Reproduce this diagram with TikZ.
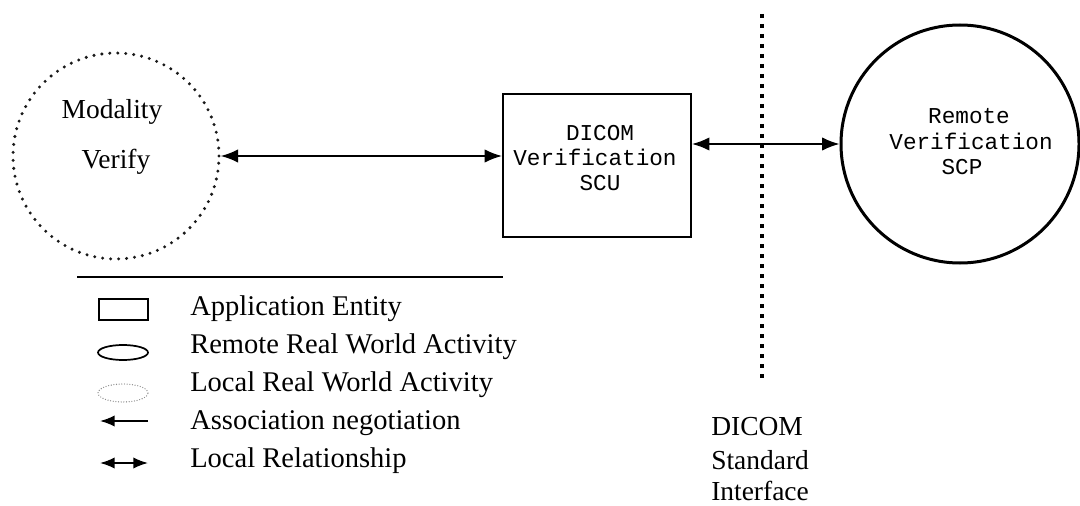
\documentclass[tikz,border=0pt]{standalone}
\usepackage{fontspec}
\setmainfont{Liberation Serif}
\setmonofont{Liberation Mono}
\usetikzlibrary{arrows.meta,shapes.geometric}
\tikzset{
  entity/.style={draw, line width=1.5pt, minimum width=141pt, minimum height=107.25pt, inner sep=0pt},
  remoteact/.style={draw, circle, line width=2.25pt, minimum size=178.5pt, inner sep=0pt},
  localact/.style={draw=black!90, circle, line width=2.5pt, line cap=round, dash pattern=on 0pt off 6pt, minimum size=154.5pt, inner sep=0pt},
  rel/.style={line width=1.3pt, {Latex[length=13pt,width=10pt]}-{Latex[length=13pt,width=10pt]}},
  legrel/.style={line width=1.3pt, {Latex[length=11pt,width=8.5pt]}-{Latex[length=11pt,width=8.5pt]}},
  legassoc/.style={line width=1.3pt, -{Latex[length=11pt,width=8.5pt]}},
  iface/.style={line width=3pt, dash pattern=on 3pt off 4.5pt},
  serif/.style={font=\fontsize{20.6}{24}\selectfont, inner sep=0pt},
  legtext/.style={font=\fontsize{21.4}{24}\selectfont, inner sep=0pt, anchor=base west},
  mono/.style={font=\ttfamily\fontsize{17}{20}\selectfont, inner sep=0pt},
}

\begin{document}
\begin{tikzpicture}[x=0.75pt, y=-0.75pt]
			%%%%% START %%%%%
			\useasboundingbox (0,0) rectangle (1080,506);
			
			% local activity
			\node[localact] (modality) at (116,156) {};
			\node[serif, anchor=base] (modname) at (112,118) {Modality};
			\node[serif, anchor=base] (modverify) at (116,168) {Verify};
			
			% application entity
			\node[entity] (scu) at (597,165.5) {};
			\node[mono, anchor=base] (scudicom) at (600,141) {DICOM};
			\node[mono, anchor=base] (scuverif) at (595,166) {Verification};
			\node[mono, anchor=base] (scuname) at (600,190) {SCU};
			
			% remote activity
			\node[remoteact] (scp) at (960,144) {};
			\node[mono, anchor=base] (scpremote) at (969,124) {Remote};
			\node[mono, anchor=base] (scpverif) at (971,150) {Verification};
			\node[mono, anchor=base] (scpname) at (962,175) {SCP};
			
			\draw[rel] (modality.east) -- (modality.east -| scu.west);
			\draw[rel] (scu.east |- scp.west) -- (scp.west);
			
			% standard interface
			\coordinate (ifacetop) at (762,14);
			\coordinate (ifacebot) at (762,380);
			\draw[iface] (ifacetop) -- (ifacebot);
			\node[serif, anchor=base west] (ifdicom) at (711,435) {DICOM};
			\node[serif, anchor=base west] (ifstandard) at (711,469) {Standard};
			\node[serif, anchor=base west] (ifname) at (711,500) {Interface};
			
			% legend
			\coordinate (sepleft) at (77,277);
			\coordinate (sepright) at (503,277);
			\draw[line width=1.5pt] (sepleft) -- (sepright);
			
			\node[draw, line width=1.3pt, minimum width=36.75pt, minimum height=15.75pt, inner sep=0pt] (aeicon) at (123.5,309.5) {};
			\node[draw, ellipse, line width=1.3pt, minimum width=37.5pt, minimum height=11.25pt, inner sep=0pt] (remoteicon) at (123,352.5) {};
			\node[draw=black!45, ellipse, line width=1pt, line cap=round, dash pattern=on 0pt off 2pt, minimum width=37.5pt, minimum height=13.5pt, inner sep=0pt] (localicon) at (123,393) {};
			\coordinate (assocend) at (148,421);
			\coordinate (assoctip) at (100,421);
			\draw[legassoc] (assocend) -- (assoctip);
			\coordinate (relleft) at (100,463);
			\coordinate (relright) at (148,463);
			\draw[legrel] (relleft) -- (relright);
			
			\node[legtext] (aetext) at (190,315) {Application Entity};
			\node[legtext] (remotetext) at (190,353) {Remote Real World Activity};
			\node[legtext] (localtext) at (190,391) {Local Real World Activity};
			\node[legtext] (assoctext) at (190,429) {Association negotiation};
			\node[legtext] (reltext) at (190,467) {Local Relationship};
			%%%%% END %%%%%
\end{tikzpicture}
\end{document}
